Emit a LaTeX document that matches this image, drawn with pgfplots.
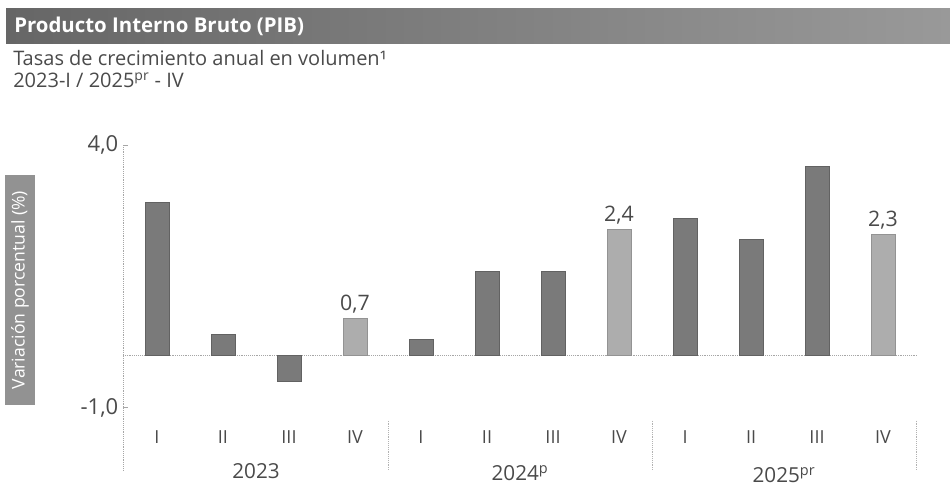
\documentclass[border=0pt]{standalone}
\usepackage{pgfplots}
\pgfplotsset{compat=1.18}
\usepackage{fontspec}
\setmainfont{Open Sans}
\definecolor{darkbar}{HTML}{7A7A7A}
\definecolor{lightbar}{HTML}{ADADAD}
\definecolor{txt}{HTML}{4A4A4A}
\definecolor{ylab}{HTML}{929292}
\tikzset{
  qlab/.style={text=txt, font=\fontsize{13.5}{15}\selectfont},
  ylabs/.style={text=txt, font=\fontsize{15.5}{17}\selectfont},
}
\begin{document}
\begin{tikzpicture}[x=0.75pt,y=-0.75pt]
\path[use as bounding box] (0,0) rectangle (950,489);
\shade[left color=black!60, right color=black!40] (6,8) rectangle (950,43);
\node[anchor=base west, text=white, inner sep=0, font=\bfseries\fontsize{15.3}{17}\selectfont] at (14,32) {Producto Interno Bruto (PIB)};
\node[anchor=base west, text=txt, inner sep=0, font=\fontsize{15}{17}\selectfont] at (13,65) {Tasas de crecimiento anual en volumen¹};
\node[anchor=base west, text=txt, inner sep=0, font=\fontsize{15}{17}\selectfont] at (13,87) {2023-I / 2025\textsuperscript{pr} - IV};
\node[fill=ylab, text=white, rotate=90, minimum width=172.5pt, minimum height=22.5pt, inner sep=0, font=\fontsize{13.2}{15}\selectfont] at (20,290) {Variación porcentual (\%)};
\begin{axis}[
  at={(92.25pt,-352.5pt)}, anchor=south west,
  scale only axis, width=596.25pt, height=243.75pt,
  xmin=-0.515, xmax=11.53, ymin=-2.19, ymax=4,
  clip=false,
  axis line style={draw=none},
  xtick=\empty,
  ytick={-1,4}, ytick pos=left,
  major tick length=4pt,
  tick style={draw=black!35, thin},
  yticklabel style={text=txt, font=\fontsize{16.5}{18}\selectfont, /pgf/number format/.cd, fixed, fixed zerofill, precision=1, use comma, assume math mode=true},
  bar width=0.36,
]
\draw[black!35, densely dotted] (axis cs:-0.515,4) -- (axis cs:-0.515,-2.19);
\draw[black!35, densely dotted] (axis cs:-0.515,0) -- (axis cs:11.53,0);
\draw[black!30, densely dotted] (axis cs:3.5,-1.25) -- (axis cs:3.5,-2.19);
\draw[black!30, densely dotted] (axis cs:7.5,-1.25) -- (axis cs:7.5,-2.19);
\draw[black!30, densely dotted] (axis cs:11.5,-1.25) -- (axis cs:11.5,-2.19);
\addplot[ybar, bar shift=0pt, fill=darkbar, draw=darkbar!80!black] coordinates {(0,2.9) (1,0.4) (2,-0.5) (4,0.3) (5,1.6) (6,1.6) (8,2.6) (9,2.2) (10,3.6)};
\addplot[ybar, bar shift=0pt, fill=lightbar, draw=lightbar!85!black,
  nodes near coords,
  every node near coord/.append style={text=txt, font=\fontsize{16}{18}\selectfont, /pgf/number format/.cd, fixed, fixed zerofill, precision=1, use comma, assume math mode=true}] coordinates {(3,0.7) (7,2.4) (11,2.3)};
\node[qlab] at (axis cs:0,-1.56) {I};
\node[qlab] at (axis cs:1,-1.56) {II};
\node[qlab] at (axis cs:2,-1.56) {III};
\node[qlab] at (axis cs:3,-1.56) {IV};
\node[qlab] at (axis cs:4,-1.56) {I};
\node[qlab] at (axis cs:5,-1.56) {II};
\node[qlab] at (axis cs:6,-1.56) {III};
\node[qlab] at (axis cs:7,-1.56) {IV};
\node[qlab] at (axis cs:8,-1.56) {I};
\node[qlab] at (axis cs:9,-1.56) {II};
\node[qlab] at (axis cs:10,-1.56) {III};
\node[qlab] at (axis cs:11,-1.56) {IV};
\node[ylabs] at (axis cs:1.5,-2.22) {2023};
\node[ylabs] at (axis cs:5.5,-2.25) {2024\textsuperscript{p}};
\node[ylabs] at (axis cs:9.5,-2.28) {2025\textsuperscript{pr}};
\end{axis}
\end{tikzpicture}
\end{document}
